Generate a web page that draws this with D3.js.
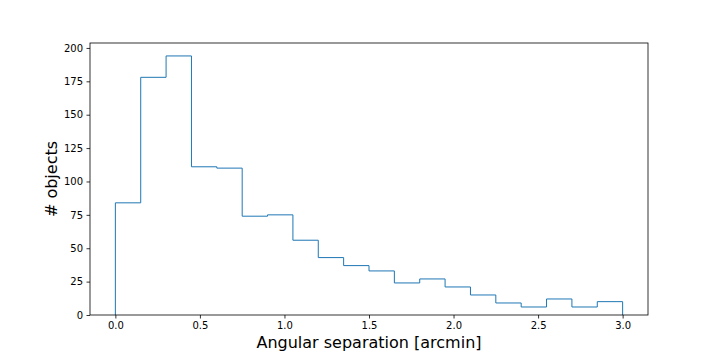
<!DOCTYPE html>
<html>
<head>
<meta charset="utf-8">
<script src="https://cdn.jsdelivr.net/npm/d3@7"></script>
<style>
  body { margin: 0; background: #fff; }
  svg { display: block; font-family: "DejaVu Sans", sans-serif; }
</style>
</head>
<body>
<svg id="chart" width="720" height="360"></svg>
<script>
// Data: counts per 0.15 arcmin bin, from 0 to 3 arcmin
const binEdges = d3.range(0, 21).map(i => +(i * 0.15).toFixed(2));
const counts = [84, 178, 194, 111, 110, 74, 75, 56, 43, 37, 33, 24, 27, 21, 15, 9, 6, 12, 6, 10];
const xTicks = [0, 0.5, 1.0, 1.5, 2.0, 2.5, 3.0];
const yTicks = [0, 25, 50, 75, 100, 125, 150, 175, 200];

const box = { left: 90, right: 648, top: 43, bottom: 315 };

const svg = d3.select("#chart");

const x = d3.scaleLinear()
    .domain([-0.15, 3.15])
    .range([box.left, box.right]);

const yMax = d3.max(counts) * 1.05;
const y = d3.scaleLinear()
    .domain([0, yMax])
    .range([box.bottom, box.top]);

// step outline
const pts = [[binEdges[0], 0]];
counts.forEach((c, i) => {
    pts.push([binEdges[i], c]);
    pts.push([binEdges[i + 1], c]);
});
pts.push([binEdges[binEdges.length - 1], 0]);

svg.append("path")
    .attr("d", d3.line().x(d => x(d[0])).y(d => y(d[1]))(pts))
    .attr("fill", "none")
    .attr("stroke", "#1f77b4")
    .attr("stroke-width", 1);

// axes
const xAxis = svg.append("g")
    .attr("transform", `translate(0, ${box.bottom})`)
    .call(d3.axisBottom(x).tickValues(xTicks).tickFormat(d3.format(".1f"))
        .tickSize(3.5).tickPadding(3.5));

const yAxis = svg.append("g")
    .attr("transform", `translate(${box.left}, 0)`)
    .call(d3.axisLeft(y).tickValues(yTicks).tickFormat(d3.format("d"))
        .tickSize(3.5).tickPadding(3.5));

[xAxis, yAxis].forEach(g => {
    g.select(".domain").remove();
    g.selectAll(".tick line").attr("stroke", "#000").attr("stroke-width", 0.8);
    g.selectAll(".tick text")
        .attr("fill", "#000")
        .style("font-family", "'DejaVu Sans', sans-serif")
        .style("font-size", "10px");
});

// frame
svg.append("rect")
    .attr("x", box.left)
    .attr("y", box.top)
    .attr("width", box.right - box.left)
    .attr("height", box.bottom - box.top)
    .attr("fill", "none")
    .attr("stroke", "#000")
    .attr("stroke-width", 0.8);

// labels
svg.append("text")
    .attr("x", (box.left + box.right) / 2)
    .attr("y", 348)
    .attr("text-anchor", "middle")
    .style("font-size", "16px")
    .text("Angular separation [arcmin]");

svg.append("text")
    .attr("transform", `translate(57, ${(box.top + box.bottom) / 2}) rotate(-90)`)
    .attr("text-anchor", "middle")
    .style("font-size", "16px")
    .text("# objects");
</script>
</body>
</html>
